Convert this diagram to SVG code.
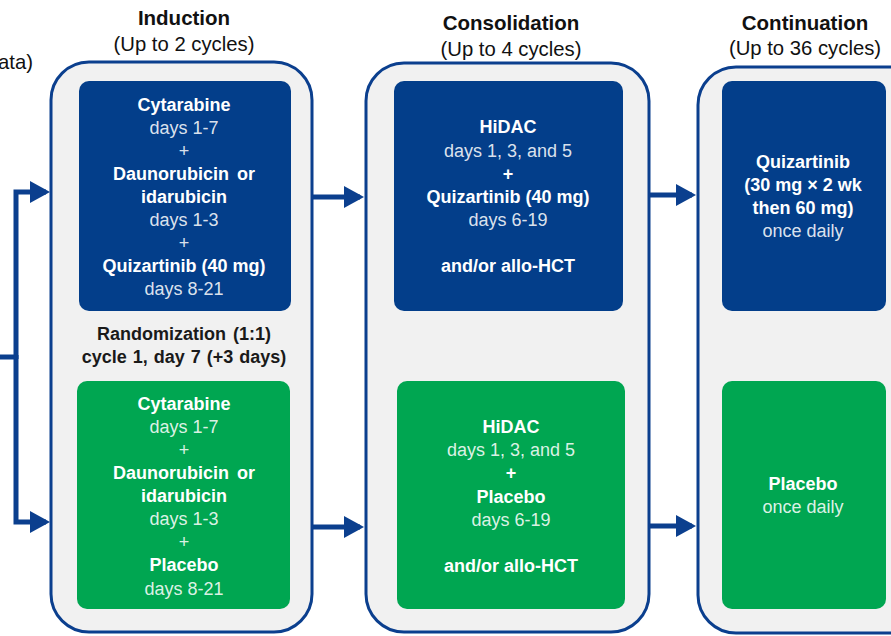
<svg xmlns="http://www.w3.org/2000/svg" width="891" height="636" viewBox="0 0 891 636">
<defs>
<style>
text{font-family:"Liberation Sans",Arial,sans-serif;text-anchor:middle}
.t{font-size:20.5px;font-weight:bold;fill:#111}
.s{font-size:20.3px;fill:#111}
.b{font-size:18px;font-weight:bold;fill:#fff}
.n{font-size:18px;fill:#fff;fill-opacity:0.87}
.r{font-size:18px;font-weight:bold;fill:#1a1a1a}
.phase{fill:#f1f1f1;stroke:#0b3f8e;stroke-width:3}
.blue{fill:#033e8a}
.green{fill:#00a651}
.con{fill:none;stroke:#0b3f8e;stroke-width:5;stroke-linejoin:miter}
</style>
<marker id="ah" markerUnits="userSpaceOnUse" markerWidth="20" markerHeight="22" refX="16" refY="11" orient="auto">
<path d="M0,0 L20,11 L0,22 Z" fill="#0b3f8e"/>
</marker>
</defs>
<rect width="891" height="636" fill="#fff"/>
<text x="33" y="69" class="s" style="text-anchor:end">ata)</text>

<g id="induction">
<text x="184" y="25" class="t">Induction</text>
<text x="184" y="51" class="s">(Up to 2 cycles)</text>
<rect class="phase" x="51" y="62" width="261" height="570" rx="38"/>
</g>
<g id="consolidation">
<text x="511" y="30" class="t">Consolidation</text>
<text x="511" y="56" class="s">(Up to 4 cycles)</text>
<rect class="phase" x="366" y="63" width="283" height="569" rx="38"/>
</g>
<g id="continuation">
<text x="805" y="30" class="t">Continuation</text>
<text x="805" y="55" class="s">(Up to 36 cycles)</text>
<rect class="phase" x="698" y="67" width="230" height="566" rx="38"/>
</g>

<g id="ind-quiz">
<rect class="blue" x="79" y="81" width="212" height="230" rx="10"/>
<text x="184" y="111" class="b">Cytarabine</text>
<text x="184" y="134" class="n">days 1-7</text>
<text x="184" y="157" class="n">+</text>
<text x="184" y="180" class="b" word-spacing="3">Daunorubicin or</text>
<text x="184" y="203" class="b">idarubicin</text>
<text x="184" y="226" class="n">days 1-3</text>
<text x="184" y="249" class="n">+</text>
<text x="184" y="272" class="b">Quizartinib (40 mg)</text>
<text x="184" y="295" class="n">days 8-21</text>
</g>

<g id="randomization">
<text x="184" y="340" class="r" word-spacing="2">Randomization (1:1)</text>
<text x="184" y="363" class="r" word-spacing="1">cycle 1, day 7 (+3 days)</text>
</g>

<g id="ind-placebo">
<rect class="green" x="77" y="381" width="213" height="228" rx="10"/>
<text x="184" y="410" class="b">Cytarabine</text>
<text x="184" y="433" class="n">days 1-7</text>
<text x="184" y="456" class="n">+</text>
<text x="184" y="479" class="b" word-spacing="3">Daunorubicin or</text>
<text x="184" y="502" class="b">idarubicin</text>
<text x="184" y="525" class="n">days 1-3</text>
<text x="184" y="548" class="n">+</text>
<text x="184" y="571" class="b">Placebo</text>
<text x="184" y="595" class="n">days 8-21</text>
</g>

<g id="cons-quiz">
<rect class="blue" x="394" y="81" width="229" height="230" rx="10"/>
<text x="508" y="133" class="b">HiDAC</text>
<text x="508" y="157" class="n">days 1, 3, and 5</text>
<text x="508" y="180" class="b">+</text>
<text x="508" y="203" class="b">Quizartinib (40 mg)</text>
<text x="508" y="226" class="n">days 6-19</text>
<text x="508" y="272" class="b">and/or allo-HCT</text>
</g>

<g id="cons-placebo">
<rect class="green" x="397" y="381" width="228" height="228" rx="10"/>
<text x="511" y="433" class="b">HiDAC</text>
<text x="511" y="456" class="n">days 1, 3, and 5</text>
<text x="511" y="479" class="b">+</text>
<text x="511" y="503" class="b">Placebo</text>
<text x="511" y="526" class="n">days 6-19</text>
<text x="511" y="572" class="b">and/or allo-HCT</text>
</g>

<g id="cont-quiz">
<rect class="blue" x="722" y="81" width="164" height="230" rx="10"/>
<text x="803" y="168" class="b">Quizartinib</text>
<text x="803" y="191" class="b">(30 mg × 2 wk</text>
<text x="803" y="214" class="b">then 60 mg)</text>
<text x="803" y="237" class="n">once daily</text>
</g>

<g id="cont-placebo">
<rect class="green" x="722" y="381" width="164" height="228" rx="10"/>
<text x="803" y="490" class="b">Placebo</text>
<text x="803" y="513" class="n">once daily</text>
</g>

<g id="connectors">
<path class="con" d="M0,357 H16"/>
<path class="con" d="M16,359 V192 H46" marker-end="url(#ah)"/>
<path class="con" d="M16,355 V522 H46" marker-end="url(#ah)"/>
<path class="con" d="M312,197 H360" marker-end="url(#ah)"/>
<path class="con" d="M312,527 H360" marker-end="url(#ah)"/>
<path class="con" d="M649,195 H692" marker-end="url(#ah)"/>
<path class="con" d="M649,526 H692" marker-end="url(#ah)"/>
</g>
</svg>
